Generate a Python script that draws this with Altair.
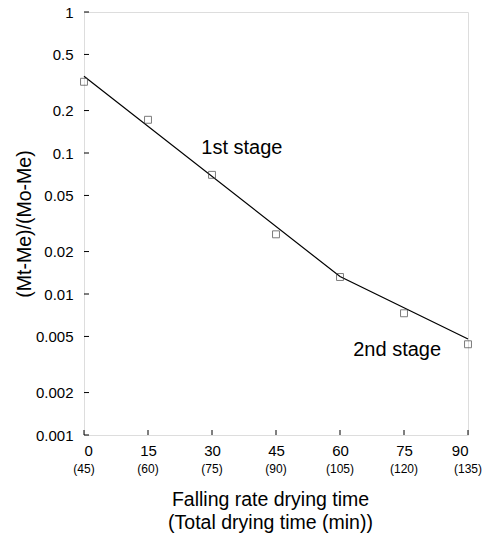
import altair as alt
import pandas as pd

# data
falling_time = [0, 15, 30, 45, 60, 75, 90]
ratio_obs = [0.32, 0.172, 0.070, 0.0265, 0.0132, 0.0073, 0.0044]
line_time = [0, 60, 90]
line_ratio = [0.35, 0.0133, 0.0048]
tick_vals = [0, 15, 30, 45, 60, 75, 90]
total_labels = ["(45)", "(60)", "(75)", "(90)", "(105)", "(120)", "(135)"]
y_ticks = [1, 0.5, 0.2, 0.1, 0.05, 0.02, 0.01, 0.005, 0.002, 0.001]
notes = ["1st stage", "2nd stage"]
note_x = [37, 73.4]
note_y = [0.109, 0.0040]

W, H = 384, 423
FONT = "Liberation Sans"

pts = pd.DataFrame({"t": falling_time, "r": ratio_obs})
ln = pd.DataFrame({"t": line_time, "r": line_ratio})
ticks = pd.DataFrame({"t": tick_vals, "lab": total_labels})
yt = pd.DataFrame({"r": y_ticks})
nt = pd.DataFrame({"t": note_x, "r": note_y, "txt": notes})

xs = alt.Scale(domain=[0, 90], nice=False, zero=False)
ys = alt.Scale(type="log", domain=[0.001, 1], nice=False)

xaxis = alt.Axis(values=tick_vals, format="d", ticks=False, grid=False, domain=False,
                 labelFont=FONT, labelFontSize=15, labelPadding=8, labelColor="black",
                 title=["Falling rate drying time", "(Total drying time (min))"],
                 titleFont=FONT, titleFontSize=19.5, titleFontWeight="normal",
                 titleLineHeight=23.5, titleY=55, titleX=W / 2 - 6,
                 titleBaseline="top", titleColor="black")
yaxis = alt.Axis(values=y_ticks, labelExpr="format(datum.value, '~g')", ticks=False,
                 grid=False, domain=False, labelFont=FONT, labelFontSize=15,
                 labelPadding=11, labelColor="black",
                 title="(Mt-Me)/(Mo-Me)", titleFont=FONT, titleFontSize=19.5,
                 titleFontWeight="normal", titleX=-60, titleY=H / 2,
                 titleBaseline="middle", titleColor="black")

line = alt.Chart(ln).mark_line(color="black", strokeWidth=1.2).encode(
    x=alt.X("t:Q", scale=xs, axis=xaxis),
    y=alt.Y("r:Q", scale=ys, axis=yaxis),
)
points = alt.Chart(pts).mark_point(shape="square", size=48, filled=False,
                                   color="#444", strokeWidth=1).encode(
    x=alt.X("t:Q", scale=xs), y=alt.Y("r:Q", scale=ys))

xticks = alt.Chart(ticks).mark_rule(color="black", strokeWidth=1).encode(
    x=alt.X("t:Q", scale=xs), y=alt.value(H), y2=alt.value(H - 5))
sub = alt.Chart(ticks).mark_text(font=FONT, fontSize=12, baseline="middle",
                                 color="black").encode(
    x=alt.X("t:Q", scale=xs), y=alt.value(H + 34), text="lab:N")
yticks = alt.Chart(yt).mark_rule(color="black", strokeWidth=1).encode(
    y=alt.Y("r:Q", scale=ys), x=alt.value(0), x2=alt.value(5))
labels = alt.Chart(nt).mark_text(font=FONT, fontSize=20, align="center",
                                 baseline="middle", color="black").encode(
    x=alt.X("t:Q", scale=xs), y=alt.Y("r:Q", scale=ys), text="txt:N")

chart = alt.layer(line, points, xticks, sub, yticks, labels).properties(
    width=W, height=H,
    autosize=alt.AutoSizeParams(type="none"),
    padding={"left": 84, "top": 12, "right": 16, "bottom": 104},
).configure_view(stroke="black", strokeWidth=1).configure(background="white")

chart.save("out.html", embed_options={"renderer": "svg", "actions": False})
